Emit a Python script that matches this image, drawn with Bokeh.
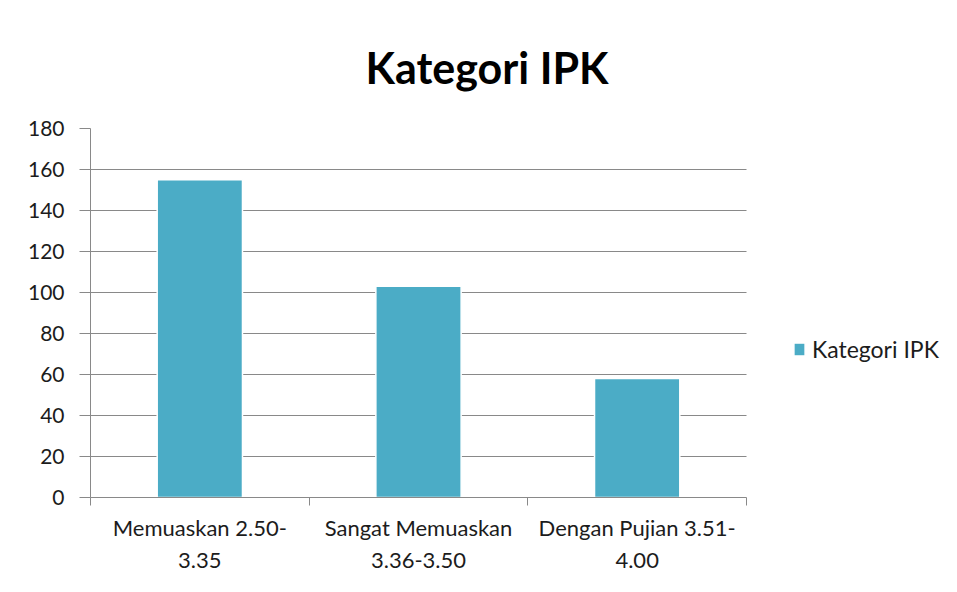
from bokeh.plotting import figure
from bokeh.models import FixedTicker, Legend, LegendItem, ColumnDataSource, Range1d
from bokeh.embed import file_html
from bokeh.resources import INLINE

categories = ["Memuaskan 2.50-\n3.35", "Sangat Memuaskan\n3.36-3.50", "Dengan Pujian 3.51-\n4.00"]
values = [155, 103, 58]
y_ticks = [0, 20, 40, 60, 80, 100, 120, 140, 160, 180]
series_name = "Kategori IPK"
title_text = "Kategori IPK"

FONT = "Lato"
GRAY = "#898989"
TEXT = "#1c1c1c"

W, H = 941, 576
LEFT, TOP, BOTTOM = 90, 128, 79
PLOT_RIGHT = 746  # where the category axis ends

n = len(categories)
x = [i + 0.5 for i in range(n)]
src = ColumnDataSource(dict(x=x, top=values))

# frame extends to the right edge so the legend can sit inside it
x_end = n * (W - LEFT) / (PLOT_RIGHT - LEFT)

p = figure(width=W, height=H, output_backend="svg", toolbar_location=None,
           x_range=Range1d(0, x_end), y_range=Range1d(0, y_ticks[-1]),
           min_border_left=LEFT, min_border_right=0, min_border_top=TOP, min_border_bottom=BOTTOM)

p.title.text = title_text
p.title.align = "left"
p.title.offset = 275
p.title.standoff = 72
p.title.text_font = FONT
p.title.text_font_style = "bold"
p.title.text_font_size = "43px"
p.title.text_color = "#000000"

r = p.vbar(x="x", top="top", width=0.39, source=src, fill_color="#4BACC6",
           line_color="white", line_width=1.5)

# y axis
p.yaxis.ticker = FixedTicker(ticks=y_ticks)
p.yaxis.axis_line_color = GRAY
p.yaxis.major_tick_line_color = GRAY
p.yaxis.major_tick_out = 11
p.yaxis.major_tick_in = 0
p.yaxis.minor_tick_line_color = None
p.yaxis.major_label_text_font = FONT
p.yaxis.major_label_text_font_size = "21px"
p.yaxis.major_label_text_color = TEXT
p.yaxis.major_label_standoff = 15

# x axis: labels at category centers, ticks at boundaries
p.xaxis.ticker = FixedTicker(ticks=x, minor_ticks=list(range(n + 1)))
p.xaxis.major_label_overrides = {xi: c for xi, c in zip(x, categories)}
p.xaxis.bounds = (0, n)
p.xaxis.axis_line_color = GRAY
p.xaxis.major_tick_line_color = None
p.xaxis.major_tick_out = 0
p.xaxis.major_tick_in = 0
p.xaxis.minor_tick_line_color = GRAY
p.xaxis.minor_tick_out = 8
p.xaxis.minor_tick_in = 0
p.xaxis.major_label_text_font = FONT
p.xaxis.major_label_text_font_size = "22px"
p.xaxis.major_label_text_color = TEXT
p.xaxis.major_label_standoff = 8

p.xgrid.visible = False
p.ygrid.ticker = FixedTicker(ticks=y_ticks)
p.ygrid.cross_bounds = (0, n)
p.ygrid.grid_line_color = GRAY
p.ygrid.grid_line_width = 1
p.outline_line_color = None
p.background_fill_color = "white"
p.border_fill_color = "white"

legend = Legend(items=[LegendItem(label=series_name, renderers=[r])],
                location=(702, 134), border_line_color=None, background_fill_alpha=0,
                glyph_width=14, glyph_height=16, label_text_font=FONT,
                label_text_font_size="23px", label_text_color=TEXT,
                padding=0, margin=0, label_standoff=6)
p.add_layout(legend)

open("out.html", "w").write(file_html(p, INLINE))
